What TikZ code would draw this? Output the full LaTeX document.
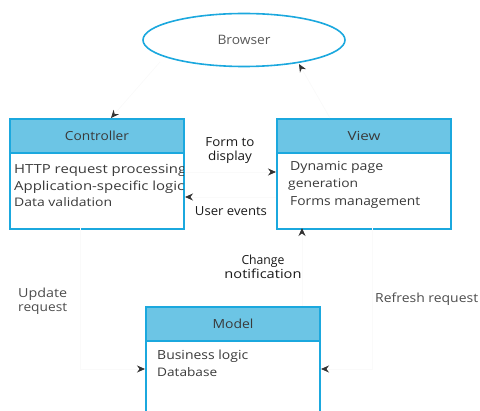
\documentclass[tikz,border=0pt]{standalone}
\usepackage{fontspec}
\setmainfont{Open Sans}
\usetikzlibrary{shapes.geometric,arrows.meta}
\definecolor{mvcblue}{HTML}{1BA8DE}
\definecolor{mvchead}{HTML}{6CC5E5}
\definecolor{mvctext}{HTML}{3A3A3A}
% set a text to a given width, keeping its height
\newcommand{\wfit}[2]{\resizebox{#1}{\height}{#2}}
\tikzset{
  boxframe/.style={draw=mvcblue, line width=2pt, fill=white, anchor=north west, inner sep=0pt},
  headbar/.style={draw=mvcblue, line width=2pt, fill=mvchead, anchor=north west, inner sep=0pt,
    minimum width=174pt, minimum height=34pt, font=\fontsize{12.5}{14}\selectfont, text=mvctext},
  bodytext/.style={anchor=base west, inner sep=0pt, text=mvctext, font=\fontsize{12.5}{14}\selectfont},
  smalltext/.style={anchor=base west, inner sep=0pt, text=mvctext, font=\fontsize{11.8}{13}\selectfont},
  edgelabel/.style={inner sep=0pt, text=black!90, font=\fontsize{12.5}{14}\selectfont, align=center},
  conn/.style={draw=black!2, line width=0.8pt, -{Stealth[length=8pt,width=7pt,color=black!80]}}
}
\begin{document}
\begin{tikzpicture}[x=1pt,y=-1pt]
\useasboundingbox (0,0) rectangle (480,411);

% Browser
\node[ellipse, draw=mvcblue, line width=1.6pt, minimum width=202pt, minimum height=53pt,
      inner sep=0pt, text=black!65, font=\fontsize{13}{15}\selectfont] (browser) at (244,40) {\wfit{53pt}{Browser}};

% Controller
\node[boxframe, minimum width=174pt, minimum height=110pt] (ctrl) at (9,118) {};
\node[headbar] (ctrlh) at (9,118) {\wfit{64pt}{Controller}};
\begin{scope}
  \clip (9,152) rectangle (183,228);
  \node[bodytext] (c1) at (14,174) {\wfit{172pt}{HTTP request processing}};
  \node[bodytext] (c2) at (14,191) {\wfit{170pt}{Application-specific logic}};
  \node[smalltext] (c3) at (14,207) {\wfit{98pt}{Data validation}};
\end{scope}

% View
\node[boxframe, minimum width=174pt, minimum height=110pt] (view) at (276,118) {};
\node[headbar] (viewh) at (276,118) {\wfit{33pt}{View}};
\node[bodytext] (v1) at (290,171) {\wfit{93pt}{Dynamic page}};
\node[smalltext] (v2) at (288,188) {\wfit{70pt}{generation}};
\node[bodytext] (v3) at (290,206) {\wfit{130pt}{Forms management}};

% Model (runs past the lower edge)
\node[boxframe, minimum width=174pt, minimum height=110pt] (model) at (145,306) {};
\node[headbar] (modelh) at (145,306) {\wfit{41pt}{Model}};
\node[bodytext] (m1) at (157,360) {\wfit{91pt}{Business logic}};
\node[smalltext] (m2) at (157,377) {\wfit{60pt}{Database}};

% Connector end points
\coordinate (bc) at (160,62);
\coordinate (ct) at (111,118);
\coordinate (vt) at (330,118);
\coordinate (bv) at (299,64);
\coordinate (ur) at (80,228);
\coordinate (ul) at (80,369);
\coordinate (rr) at (372,228);
\coordinate (rl) at (372,369);

% Connectors
\draw[conn] (bc) -- (ct);
\draw[conn] (vt) -- (bv);
\draw[conn] (ctrl.east |- 0,172) -- (view.west |- 0,172);
\draw[conn] (view.west |- 0,197) -- (ctrl.east |- 0,197);
\draw[conn] (model.north -| 302,0) -- (302,228);
\draw[conn] (ur) -- (ul) -- (model.west |- ul);
\draw[conn] (rr) -- (rl) -- (model.east |- rl);

% Labels
\node[edgelabel] (lform) at (230,151) {\wfit{49pt}{Form to}\\\wfit{44pt}{display}};
\node[edgelabel] (luser) at (231,211) {\wfit{72pt}{User events}};
\node[edgelabel] (lchange) at (263,267) {\wfit{43pt}{Change}\\\wfit{77pt}{notification}};
\node[edgelabel, align=left, anchor=north west, text=black!70] (lupdate) at (18,288) {\wfit{49pt}{Update}\\\wfit{49pt}{request}};
\node[edgelabel, anchor=west, text=black!70] (lrefresh) at (375,299) {\wfit{103pt}{Refresh request}};
\end{tikzpicture}
\end{document}
